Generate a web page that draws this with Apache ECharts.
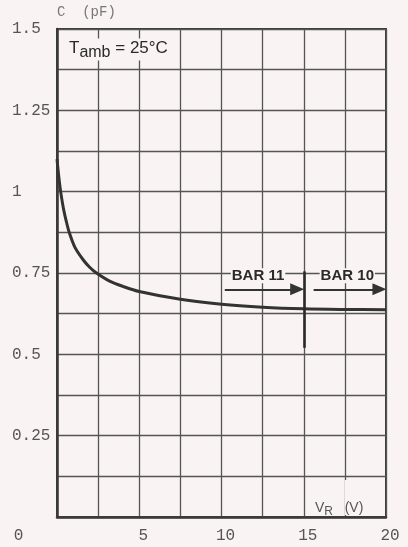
<!DOCTYPE html>
<html>
<head>
<meta charset="utf-8">
<script src="https://cdn.jsdelivr.net/npm/echarts@6/dist/echarts.min.js"></script>
<style>
html,body{margin:0;padding:0;background:#faf3f3;}
#c{width:408px;height:547px;}
</style>
</head>
<body>
<div id="c"></div>
<script>
// Reverse voltage V_R (V) and capacitance C (pF)
const vr  = [0.0, 0.08, 0.16, 0.24, 0.4, 0.55, 0.73, 1.1, 1.6, 2.0, 2.4, 3.2, 4.0, 5.0, 7.5, 10.0, 12.5, 15.0, 17.5, 20.0];
const cap = [1.10, 1.059, 1.024, 0.994, 0.946, 0.912, 0.877, 0.828, 0.790, 0.767, 0.750, 0.725, 0.709, 0.693, 0.669, 0.654, 0.645, 0.640, 0.638, 0.637];

// Annotation values (data units)
const bar11 = { label: 'BAR 11', from: 10.2, to: 14.6 };
const bar10 = { label: 'BAR 10', from: 15.6, to: 19.6 };
const arrowC = 0.70;
const divider = { v: 15.0, from: 0.52, to: 0.755 };

// Axis ranges / tick labels
const xMin = 0, xMax = 20, xStep = 2.5;
const yMin = 0, yMax = 1.5, yStep = 0.125;
const xTickLabels = [5, 10, 15, 20];
const yTickLabels = [0.25, 0.5, 0.75, 1, 1.25, 1.5];

const BG = '#faf3f3';
const INK = '#333';
const GRID = '#555';

const chart = echarts.init(document.getElementById('c'));

const arrowLine = (b) => [
  { coord: [b.from, arrowC], symbol: 'none',
    label: { show: true, formatter: b.label, position: 'insideStartTop' } },
  { coord: [b.to, arrowC], symbol: 'triangle', symbolSize: [12, 14] }
];

chart.setOption({
  backgroundColor: BG,
  animation: false,
  grid: { left: 57, right: 22, top: 29, bottom: 30, show: true, borderColor: '#3a3a3a', borderWidth: 2 },
  xAxis: {
    type: 'value', min: xMin, max: xMax, interval: xStep,
    axisLine: { show: true, lineStyle: { color: '#3a3a3a', width: 2.5 } },
    axisTick: { show: false },
    splitLine: { show: true, lineStyle: { color: GRID, width: 1.3 } },
    axisLabel: {
      margin: 11,
      formatter: (v) => {
        if (v === 0) return '{o|0}';
        return xTickLabels.includes(v) ? '{n|' + v + '}' : '';
      },
      rich: {
        n: { fontFamily: 'Liberation Mono', fontSize: 16, color: '#555', padding: [0, 0, 0, 8] },
        o: { fontFamily: 'Liberation Mono', fontSize: 16, color: '#555', padding: [0, 77, 0, 0] }
      }
    }
  },
  yAxis: {
    type: 'value', min: yMin, max: yMax, interval: yStep,
    axisLine: { show: true, lineStyle: { color: '#3a3a3a', width: 2.5 } },
    axisTick: { show: false },
    splitLine: { show: true, lineStyle: { color: GRID, width: 1.3 } },
    axisLabel: {
      align: 'left', margin: 45,
      fontFamily: 'Liberation Mono', fontSize: 16, color: '#555',
      formatter: (v) => yTickLabels.some(t => Math.abs(t - v) < 1e-9) ? String(v) : ''
    }
  },
  series: [{
    type: 'line',
    data: vr.map((x, i) => [x, cap[i]]),
    smooth: 0.3,
    showSymbol: false,
    lineStyle: { color: '#333', width: 3 },
    z: 3,
    markLine: {
      silent: true,
      animation: false,
      symbol: ['none', 'triangle'],
      lineStyle: { color: INK, width: 1.8, type: 'solid' },
      label: {
        show: false,
        fontFamily: 'Liberation Sans', fontSize: 15, fontWeight: 'bold', color: '#2a2a2a',
        backgroundColor: BG, padding: [0, 1, 0, 1], distance: 6
      },
      emphasis: { disabled: true },
      data: [
        arrowLine(bar11),
        arrowLine(bar10),
        [
          { coord: [divider.v, divider.from], symbol: 'none', lineStyle: { width: 2.6, color: '#2a2a2a' } },
          { coord: [divider.v, divider.to], symbol: 'none' }
        ]
      ]
    }
  }],
  graphic: [
    { type: 'text', left: 57, top: 5,
      style: { text: 'C  (pF)', font: '14px "Liberation Mono"', fill: '#777' } },
    { type: 'text', left: 67, top: 37, z: 10,
      style: {
        text: '{a|T}{b|amb}{a| = 25°C}',
        backgroundColor: BG, padding: [1, 2, 2, 2],
        rich: {
          a: { font: '17px "Liberation Sans"', fill: '#2a2a2a', verticalAlign: 'top', lineHeight: 19 },
          b: { font: '16px "Liberation Sans"', fill: '#2a2a2a', padding: [8, 0, 0, 0], lineHeight: 19 }
        }
      } },
    { type: 'rect', shape: { x: 345, y: 480, width: 6, height: 35 }, style: { fill: BG }, z: 9 },
    { type: 'text', left: 315, top: 498, z: 10,
      style: {
        text: '{a|V}{b|R}{a|   (V)}',
        rich: {
          a: { font: '14px "Liberation Sans"', fill: '#555', lineHeight: 16 },
          b: { font: '12px "Liberation Sans"', fill: '#555', padding: [8, 0, 0, 0], lineHeight: 16 }
        }
      } }
  ]
});
</script>
</body>
</html>
